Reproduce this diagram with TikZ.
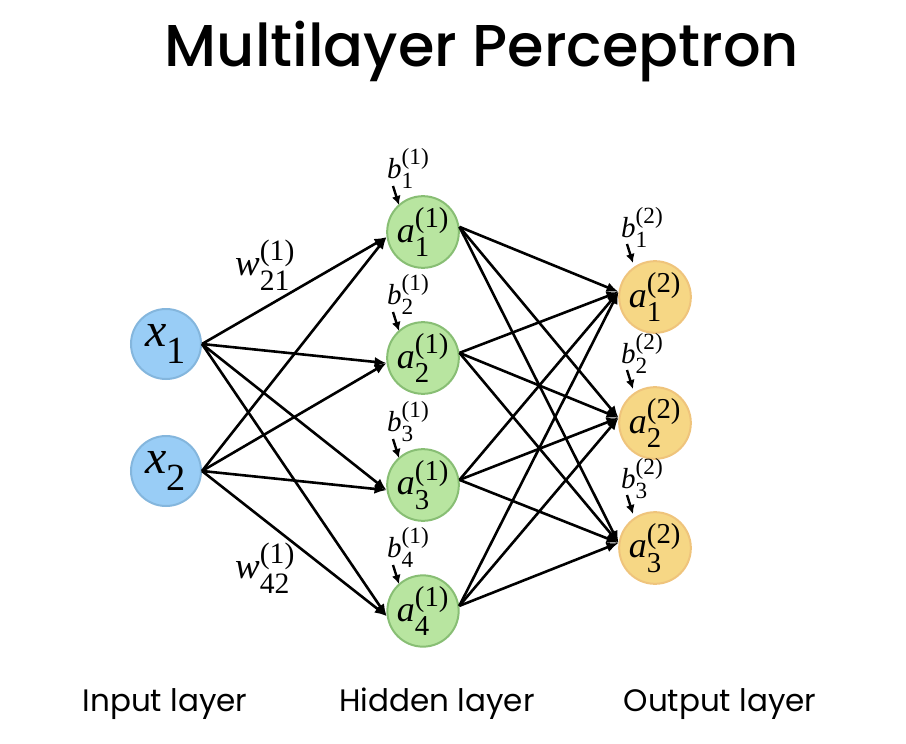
\documentclass[tikz,border=0pt]{standalone}
\usepackage{amsmath}
\usepackage{fontspec}
\setmainfont{Liberation Serif}
\newfontfamily\titlefont{Poppins}[UprightFont=* Medium]
\newfontfamily\lblfont{Poppins}
\usetikzlibrary{arrows.meta}
\def\defaultscriptratio{.8}
\newcommand\mv[3]{$\textit{#1}^{\text{(#2)}}_{\text{#3}}$}
\newcommand\iv[2]{$\textit{#1}_{\text{#2}}$}
\definecolor{inFill}{HTML}{99CDF6}
\definecolor{inDraw}{HTML}{84B6DD}
\definecolor{hidFill}{HTML}{B8E5A0}
\definecolor{hidDraw}{HTML}{88BE74}
\definecolor{outFill}{HTML}{F6D785}
\definecolor{outDraw}{HTML}{EFC47C}
\tikzset{
  neuron/.style={circle, minimum size=70pt, inner sep=0pt, line width=2pt},
  innode/.style={neuron, fill=inFill, draw=inDraw, font=\fontsize{48}{48}\selectfont},
  hidnode/.style={neuron, fill=hidFill, draw=hidDraw, font=\fontsize{36}{36}\selectfont},
  outnode/.style={neuron, fill=outFill, draw=outDraw, font=\fontsize{36}{36}\selectfont},
  conn/.style={line width=2.6pt, -{Latex[length=12pt,width=10pt]}},
  biasarr/.style={line width=2.4pt, -{Latex[length=9pt,width=9pt]}},
  biaslbl/.style={anchor=base west, inner sep=0pt, font=\fontsize{29}{29}\selectfont},
  wlbl/.style={anchor=base west, inner sep=0pt, font=\fontsize{37}{37}\selectfont},
  layerlbl/.style={font=\lblfont\fontsize{31}{31}\selectfont, anchor=base}
}
\begin{document}
\begin{tikzpicture}[x=1pt,y=-1pt]
\useasboundingbox (0,0) rectangle (906,744);
\node[font=\titlefont\fontsize{59}{59}\selectfont, anchor=base] (title) at (482,66) {Multilayer Perceptron};

\node[innode] (x1) at (166,344) {\iv{x}{1}};
\node[innode] (x2) at (166,471) {\iv{x}{2}};

\node[hidnode] (h1) at (423,232) {\mv{a}{1}{1}};
\node[hidnode] (h2) at (423,358) {\mv{a}{1}{2}};
\node[hidnode] (h3) at (423,485) {\mv{a}{1}{3}};
\node[hidnode] (h4) at (423,611) {\mv{a}{1}{4}};

\node[outnode] (o1) at (655,297) {\mv{a}{2}{1}};
\node[outnode] (o2) at (655,423) {\mv{a}{2}{2}};
\node[outnode] (o3) at (655,548) {\mv{a}{2}{3}};

% input -> hidden
\foreach \i in {1,2}{
  \foreach \j in {1,2,3,4}{
    \draw[conn] (x\i.east) -- (h\j.188);
  }
}
% hidden -> output
\foreach \j in {1,2,3,4}{
  \foreach \k in {1,2,3}{
    \draw[conn] (h\j.8) -- (o\k.172);
  }
}

% biases
\foreach \j/\n in {1/h1,2/h2,3/h3,4/h4}{
  \node[biaslbl] (b\n) at ([xshift=-36pt,yshift=54pt]\n.center) {\mv{b}{1}{\j}};
  \coordinate (bs\n) at ([xshift=-30pt,yshift=46pt]\n.center);
  \coordinate (be\n) at ([xshift=-24pt,yshift=27pt]\n.center);
  \draw[biasarr] (bs\n) -- (be\n);
}
\foreach \k/\n in {1/o1,2/o2,3/o3}{
  \node[biaslbl] (b\n) at ([xshift=-34pt,yshift=60pt]\n.center) {\mv{b}{2}{\k}};
  \coordinate (bs\n) at ([xshift=-28pt,yshift=53pt]\n.center);
  \coordinate (be\n) at ([xshift=-22pt,yshift=34pt]\n.center);
  \draw[biasarr] (bs\n) -- (be\n);
}

% weight labels
\node[wlbl] (w21) at (235,275) {\mv{w}{1}{21}};
\node[wlbl] (w42) at (235,578) {\mv{w}{1}{42}};

% layer labels
\node[layerlbl] (lin) at (165,711) {Input layer};
\node[layerlbl] (lhid) at (437,711) {Hidden layer};
\node[layerlbl] (lout) at (720,711) {Output layer};
\end{tikzpicture}
\end{document}
